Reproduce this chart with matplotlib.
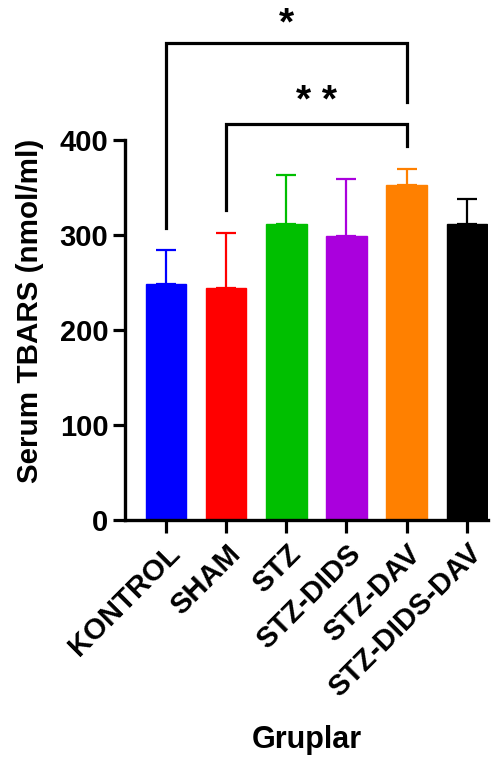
import matplotlib.pyplot as plt

# group names, means and upper SD
groups = ['KONTROL', 'SHAM', 'STZ', 'STZ-DIDS', 'STZ-DAV', 'STZ-DIDS-DAV']
means = [248, 244, 311, 299, 352, 311]
errors = [36, 58, 52, 60, 17, 27]
colors = ['#0000FF', '#FF0000', '#00BF00', '#AA00DD', '#FF8000', '#000000']

plt.rcParams['font.family'] = ['Liberation Sans', 'DejaVu Sans']
plt.rcParams['font.weight'] = 'bold'

fig = plt.figure(figsize=(5.02, 7.6), dpi=100)
ax = fig.add_axes([0.249, 0.316, 0.723, 0.5])

x = list(range(len(groups)))
ax.bar(x, means, width=0.675, color=colors, edgecolor=colors, zorder=2)
for xi, m, e, c in zip(x, means, errors, colors):
    ax.errorbar(xi, m, yerr=[[0], [e]], color=c, capsize=7.5, elinewidth=1.6,
                capthick=1.6, zorder=1)

ax.set_xlim(-0.68, 5.35)
ax.set_ylim(0, 400)
ax.set_yticks([0, 100, 200, 300, 400])
ax.set_xticks(x)
ax.set_xticklabels(groups, rotation=45, ha='right', rotation_mode='anchor')
ax.tick_params(axis='both', width=2.3, length=9, labelsize=21, pad=3)
ax.tick_params(axis='x', pad=5)
for lab in ax.get_xticklabels() + ax.get_yticklabels():
    lab.set_fontweight('bold')
for s in ['top', 'right']:
    ax.spines[s].set_visible(False)
for s in ['left', 'bottom']:
    ax.spines[s].set_linewidth(2.4)

ax.set_ylabel('Serum TBARS (nmol/ml)', fontsize=21.3, fontweight='bold')
ax.yaxis.set_label_coords(-0.223, 0.549)
ax.set_xlabel('Gruplar', fontsize=22, fontweight='bold')
ax.xaxis.set_label_coords(0.5, -0.54)

# significance brackets
def bracket(x1, x2, y_left, y_right, top, text, ty):
    ax.plot([x1, x1, x2, x2], [y_left, top, top, y_right], color='black',
            lw=2.3, clip_on=False, solid_joinstyle='miter')
    ax.text((x1 + x2) / 2, ty, text, ha='center', va='center', fontsize=28,
            fontweight='bold', clip_on=False)

bracket(0, 4, 307, 440, 502, '*', 521)
bracket(1, 4, 326, 393, 417, '* *', 440)

fig.savefig('out.png', dpi=100)
